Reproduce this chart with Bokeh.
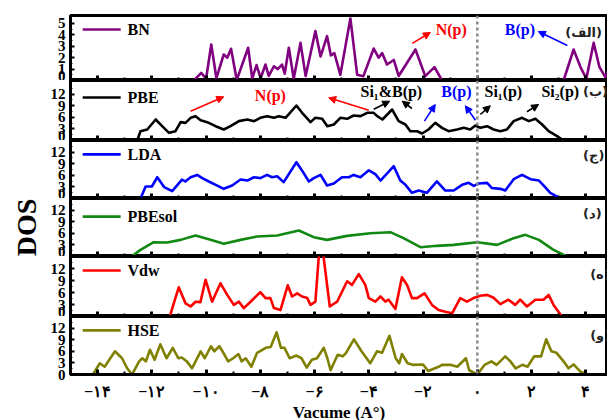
from bokeh.plotting import figure
from bokeh.layouts import column
from bokeh.models import (Range1d, FixedTicker, Span, Arrow, NormalHead, CustomLabelingPolicy,
                          InlineStyleSheet)
from bokeh.core.properties import value
from bokeh.embed import file_html
from bokeh.resources import INLINE

SERIF = "Liberation Serif"

# ---------------- data ----------------
x_ticks = [-14, -12, -10, -8, -6, -4, -2, 0, 2, 4]
x_tick_labels = ["−۱۴", "−۱۲", "−۱۰", "−۸", "−۶", "−۴", "−۲", "۰", "۲", "۴"]
x_minor = [-15, -13, -11, -9, -7, -5, -3, -1, 1, 3]

bn_x = [-15.0, -10.45, -10.18, -10.0, -9.81, -9.62, -9.35, -9.22, -9.08, -8.87, -8.45, -8.3,
        -8.14, -7.99, -7.81, -7.69, -7.5, -7.36, -7.2, -7.1, -6.95, -6.77, -6.52, -6.33,
        -5.97, -5.78, -5.54, -5.4, -5.27, -5.05, -4.68, -4.43, -4.2, -3.82, -3.64, -3.51,
        -3.33, -3.08, -2.9, -2.28, -1.92, -1.58, -1.3, 3.18, 3.55, 3.8, 4.02, 4.29, 4.5,
        4.72, 4.85]
bn_y = [0.0, 0.0, 0.67, 0.15, 3.16, 0.2, 2.28, 2.0, 2.78, 0.05, 2.87, 0.2,
        1.35, 0.2, 1.4, 0.4, 1.25, 1.0, 1.4, 0.6, 2.87, 0.15, 3.3, 0.4,
        4.33, 2.1, 3.89, 2.2, 2.4, 0.5, 5.44, 0.5, 0.38, 2.8, 2.0, 2.4,
        1.4, 1.8, 0.4, 2.72, 0.38, 1.17, 0.0, 0.0, 2.72, 1.2, 0.15, 3.3, 1.2,
        0.3, 1.0]

pbe_x = [-12.54, -12.42, -12.17, -11.86, -11.62, -11.37, -11.13, -10.94, -10.76, -10.57,
         -10.39, -10.2, -9.96, -9.65, -9.35, -9.1, -8.79, -8.48, -8.23, -8.0, -7.75, -7.5,
         -7.32, -7.07, -6.67, -6.46, -6.15, -5.97, -5.72, -5.53, -5.29, -5.05, -4.8, -4.56,
         -4.31, -4.06, -3.82, -3.69, -3.5, -3.14, -2.9, -2.65, -2.47, -2.22, -2.04, -1.8,
         -1.55, -1.3, -1.06, -0.75, -0.5, -0.26, -0.07, 0.11, 0.36, 0.6, 0.85, 1.09, 1.34,
         1.65, 1.9, 2.14, 2.39, 2.63, 2.94, 3.18, 3.4]
pbe_y = [0.0, 2.4, 2.84, 5.43, 3.7, 1.98, 2.4, 4.74, 4.56, 5.86,
         6.29, 5.25, 4.74, 3.7, 2.84, 3.7, 5.0, 5.43, 5.0, 5.86, 6.29, 5.86,
         6.29, 5.86, 9.04, 7.15, 4.74, 5.86, 5.6, 3.7, 4.13, 5.86, 5.6, 6.46,
         6.29, 7.15, 7.15, 6.29, 5.43, 8.0, 5.0, 4.13, 2.4, 2.4, 1.81, 2.84,
         4.56, 3.27, 2.4, 2.84, 3.27, 2.84, 3.88, 3.27, 3.7, 2.84, 2.4, 2.84, 5.0,
         5.86, 5.0, 5.6, 4.13, 2.4, 1.12, 0.0, 0.0]

lda_x = [-15.0, -12.42, -12.23, -12.0, -11.8, -11.55, -11.25, -10.89, -10.77, -10.57, -10.33,
         -10.14, -9.9, -9.59, -9.35, -9.04, -8.73, -8.48, -8.24, -8.0, -7.75, -7.57, -7.38,
         -7.14, -6.67, -6.46, -6.21, -6.03, -5.78, -5.54, -5.29, -4.99, -4.74, -4.56, -4.31,
         -4.0, -3.76, -3.57, -3.08, -2.84, -2.65, -2.41, -2.16, -1.86, -1.49, -1.18, -0.87,
         -0.56, -0.32, -0.13, 0.05, 0.36, 0.54, 0.85, 1.03, 1.34, 1.65, 1.96, 2.27, 2.45,
         2.69, 3.06, 4.0]
lda_y = [0.0, 0.0, 3.1, 3.1, 5.5, 2.96, 1.9, 4.9, 4.4, 5.5, 6.1,
         5.26, 4.4, 3.35, 2.5, 3.35, 4.9, 4.64, 5.5, 5.26, 6.1, 5.5, 5.77,
         4.23, 9.38, 7.2, 4.4, 5.26, 6.1, 3.35, 3.87, 5.5, 5.5, 6.1, 5.5,
         7.3, 6.3, 4.64, 8.35, 4.64, 3.53, 1.47, 2.06, 1.47, 4.4, 2.06, 2.06,
         3.53, 4.05, 3.27, 3.87, 4.05, 2.7, 2.5, 2.06, 5.0, 6.1, 5.0, 4.64, 3.35,
         1.47, 0.0, 0.0]

pbesol_x = [-15.0, -12.75, -12.42, -11.93, -11.44, -10.94, -10.39, -9.9, -9.35, -8.73, -8.12,
            -7.38, -6.58, -6.03, -5.54, -4.8, -3.94, -3.21, -2.72, -2.1, -1.49, -0.87, 0.0,
            0.73, 1.28, 1.77, 2.27, 2.81, 3.3, 4.8]
pbesol_y = [0.0, 0.0, 1.72, 3.7, 3.62, 4.3, 5.43, 4.48, 3.27, 4.3, 5.17,
            5.43, 6.72, 5.0, 4.3, 5.34, 6.03, 6.29, 4.74, 2.41, 2.76, 3.01, 3.7,
            3.01, 4.56, 5.6, 4.3, 1.72, 0.0, 0.0]

vdw_x = [-15.0, -11.34, -11.01, -10.76, -10.57, -10.39, -10.21, -10.02, -9.78, -9.47, -9.22,
         -8.98, -8.79, -8.61, -8.36, -8.0, -7.81, -7.63, -7.5, -7.26, -6.99, -6.83, -6.64,
         -6.46, -6.27, -6.15, -5.97, -5.84, -5.76, -5.68, -5.44, -5.17, -4.8, -4.62, -4.37,
         -4.13, -4.0, -3.76, -3.57, -3.39, -3.27, -3.02, -2.78, -2.59, -2.41, -2.22, -1.95,
         -1.67, -1.43, -1.18, -0.93, -0.63, -0.38, -0.14, 0.11, 0.36, 0.6, 0.85, 1.15, 1.4,
         1.58, 1.83, 2.14, 2.44, 2.63, 2.81, 3.12, 3.61]
vdw_y = [0.0, 0.0, 7.3, 3.3, 2.5, 3.7, 3.6, 9.2, 3.7, 8.3, 5.4,
         2.9, 3.7, 2.1, 3.7, 6.1, 4.6, 4.6, 2.1, 1.6, 7.8, 5.0, 5.8,
         5.0, 4.6, 2.9, 3.7, 15.5, 17.5, 15.5, 2.5, 3.7, 8.8, 7.9, 10.6,
         7.9, 4.6, 3.7, 5.0, 3.7, 4.2, 1.9, 9.8, 7.9, 4.6, 4.6, 5.8,
         2.9, 1.6, 1.2, 0.8, 4.6, 3.7, 4.6, 5.2, 5.4, 4.7, 3.1, 4.2, 2.9,
         4.2, 2.5, 4.2, 4.2, 5.4, 2.9, 0.0, 0.0]

hse_x = [-15.0, -14.17, -13.92, -13.74, -13.36, -13.1, -12.91, -12.73, -12.47, -12.35, -12.22,
         -12.07, -11.9, -11.69, -11.46, -11.23, -11.02, -10.9, -10.71, -10.52, -10.2, -10.05,
         -9.82, -9.7, -9.51, -9.32, -9.19, -9.0, -8.81, -8.69, -8.54, -8.33, -8.12, -7.8,
         -7.62, -7.4, -7.24, -7.11, -6.92, -6.67, -6.48, -6.29, -6.1, -5.91, -5.66, -5.53,
         -5.41, -5.15, -4.96, -4.84, -4.55, -4.27, -3.95, -3.7, -3.51, -3.24, -3.01, -2.88,
         -2.78, -2.57, -2.38, -2.0, -1.81, -1.43, -1.3, -0.99, -0.74, -0.42, -0.3, 0.0, 0.27,
         0.52, 0.71, 1.03, 1.22, 1.41, 1.66, 1.85, 2.1, 2.35, 2.54, 2.73, 2.92, 3.18, 3.36,
         3.55, 3.81, 4.06, 4.25]
hse_y = [0.0, 0.0, 2.9, 2.0, 6.0, 4.2, 1.6, 0.0, 3.4, 4.2, 3.4,
         6.4, 3.8, 7.8, 4.2, 6.9, 4.2, 4.4, 3.4, 1.6, 6.0, 4.2,
         7.3, 6.0, 7.3, 5.1, 3.4, 4.2, 5.3, 3.4, 4.2, 2.0, 5.6, 6.9,
         7.1, 10.9, 6.9, 6.9, 4.2, 4.9, 4.2, 1.8, 3.8, 4.2, 6.9, 4.2,
         1.1, 5.1, 4.7, 5.6, 9.1, 6.0, 2.9, 6.0, 5.6, 10.0, 4.2, 2.9,
         5.3, 2.9, 2.5, 2.6, 0.9, 2.0, 2.5, 2.5, 2.0, 4.2, 1.1, 0.0, 2.5,
         3.4, 2.5, 4.7, 3.4, 1.6, 2.5, 2.0, 4.7, 4.7, 9.1, 6.0, 5.6, 3.4, 1.6,
         2.6, 0.7, 0.0, 0.0]

series_names = ["BN", "PBE", "LDA", "PBEsol", "Vdw", "HSE"]
series_colors = ["#800080", "#000000", "#0000ff", "#118811", "#ff0000", "#808000"]
panel_labels = ["(الف)", "(ب)", "(ج)", "(د)", "(ه)", "(و)"]
dos_ticks = [0, 3, 6, 9, 12]
bn_ticks = [0, 1, 2, 3, 4, 5]

# ---------------- layout / style ----------------
FRAME_W = 537
LEFT = 70
X0, X1 = -15.0, 4.8
frame_heights = [65, 60, 58, 58, 60, 58]
y_tops = [5.7, 15.5, 15.0, 15.0, 15.0, 15.0]
legend_y = [4.47, 11.1, 11.4, 10.3, 11.5, 11.4]
plab_pos = [(3.24, 4.2), (3.9, 12.66), (3.9, 11.1), (3.9, 11.1), (4.16, 10.5), (4.16, 10.1)]

data = [(bn_x, bn_y), (pbe_x, pbe_y), (lda_x, lda_y), (pbesol_x, pbesol_y),
        (vdw_x, vdw_y), (hse_x, hse_y)]

hide_all = CustomLabelingPolicy(code="for (const i of indices) indices.unset(i)\nreturn indices")
overflow_css = InlineStyleSheet(css="""
:host { overflow: visible !important; }
div { overflow: visible !important; }
svg { overflow: visible !important; }
canvas { overflow: visible !important; }
""")

figs = []
for i in range(6):
    last = i == 5
    p = figure(frame_width=FRAME_W, frame_height=frame_heights[i],
               x_range=Range1d(X0, X1), y_range=Range1d(0, y_tops[i]),
               output_backend="svg", toolbar_location=None,
               min_border_left=LEFT, min_border_right=0,
               min_border_top=15 if i == 0 else 0, min_border_bottom=0,
               background_fill_color="white", border_fill_alpha=0.0)
    p.stylesheets = [overflow_css]
    p.xgrid.visible = False
    p.ygrid.visible = False
    p.outline_line_color = "black"
    p.outline_line_width = 3

    xa = p.xaxis[0]
    xa.ticker = FixedTicker(ticks=x_ticks, minor_ticks=x_minor)
    xa.major_tick_in = 5
    xa.major_tick_out = 0
    xa.minor_tick_in = 3
    xa.minor_tick_out = 0
    xa.major_tick_line_width = 3
    xa.minor_tick_line_width = 2
    xa.axis_line_width = 3
    if last:
        xa.major_label_overrides = {t: l for t, l in zip(x_ticks, x_tick_labels)}
        xa.major_label_text_font = SERIF
        xa.major_label_text_font_style = "bold"
        xa.major_label_text_font_size = "16px"
        xa.major_label_text_color = "black"
        xa.major_label_standoff = 8
        xa.axis_label = "Vacume (A°)"
        xa.axis_label_text_font = SERIF
        xa.axis_label_text_font_style = "bold"
        xa.axis_label_text_font_size = "17px"
        xa.axis_label_text_color = "black"
        xa.axis_label_standoff = 0
    else:
        xa.major_label_text_font_size = "0px"
        xa.major_label_standoff = 0
        xa.major_label_policy = hide_all

    ya = p.yaxis[0]
    if i == 0:
        ya.ticker = FixedTicker(ticks=bn_ticks, minor_ticks=[0.5, 1.5, 2.5, 3.5, 4.5])
    else:
        ya.ticker = FixedTicker(ticks=dos_ticks, minor_ticks=[1.5, 4.5, 7.5, 10.5, 13.5])
    ya.major_tick_in = 4
    ya.major_tick_out = 0
    ya.minor_tick_in = 2
    ya.minor_tick_out = 0
    ya.major_tick_line_width = 2
    ya.axis_line_width = 3
    ya.major_label_text_font = SERIF
    ya.major_label_text_font_style = "bold"
    ya.major_label_text_font_size = "15px"
    ya.major_label_text_color = "black"
    ya.major_label_standoff = 5
    if i == 3:
        ya.axis_label = "DOS"
        ya.axis_label_text_font = SERIF
        ya.axis_label_text_font_style = "bold"
        ya.axis_label_text_font_size = "28px"
        ya.axis_label_text_color = "black"
        ya.axis_label_standoff = 6

    xs, ys = data[i]
    col = series_colors[i]
    p.line(xs, ys, line_color=col, line_width=2.6, line_join="round")

    p.add_layout(Span(location=0, dimension="height", line_color="#888888",
                      line_dash="3 3", line_width=2.5))

    p.line([-14.55, -13.15], [legend_y[i]] * 2, line_color=col, line_width=2.6)
    p.text(x=[-12.9], y=[legend_y[i]], text=[series_names[i]], text_font=value(SERIF),
           text_font_style="bold", text_font_size="16px", text_align="left",
           text_baseline="middle", text_color="black")

    px_, py_ = plab_pos[i]
    p.text(x=[px_], y=[py_], text=[panel_labels[i]], text_font=value("DejaVu Sans"),
           text_font_style="bold", text_font_size="13px", text_align="left",
           text_baseline="middle", text_color="#222222")
    figs.append(p)


def arrow(p, x0, y0, x1, y1, color):
    p.add_layout(Arrow(end=NormalHead(size=7, fill_color=color, line_color=color),
                       x_start=x0, y_start=y0, x_end=x1, y_end=y1,
                       line_color=color, line_width=1.6))


def label(p, x, y, t, color):
    p.text(x=[x], y=[y], text=[t], text_font=value(SERIF), text_font_style="bold",
           text_font_size="16px", text_align="center", text_baseline="middle",
           text_color=color)


p0 = figs[0]
label(p0, -0.96, 4.47, "N(p)", "#ff0000")
arrow(p0, -2.40, 3.25, -1.73, 4.21, "#ff0000")
label(p0, 1.57, 4.47, "B(p)", "#0000ff")
arrow(p0, 3.32, 3.07, 2.25, 4.3, "#0000ff")

p1 = figs[1]
arrow(p1, -10.57, 7.57, -9.35, 11.29, "#ff0000")
label(p1, -7.63, 11.7, "N(p)", "#ff0000")
arrow(p1, -4.0, 7.83, -5.48, 11.03, "#ff0000")
label(p1, -3.17, 12.58, "Si₁&B(p)", "#000000")
arrow(p1, -3.82, 8.09, -3.23, 10.16, "#000000")
arrow(p1, -2.41, 8.27, -2.77, 10.16, "#000000")
label(p1, -0.77, 12.66, "B(p)", "#0000ff")
arrow(p1, -1.95, 4.99, -1.55, 9.3, "#0000ff")
arrow(p1, -0.07, 5.25, -0.44, 8.97, "#0000ff")
label(p1, 0.96, 12.66, "Si₁(p)", "#000000")
arrow(p1, 0.11, 6.72, 0.48, 8.97, "#000000")
label(p1, 3.06, 12.66, "Si₂(p)", "#000000")
arrow(p1, 1.83, 7.42, 2.26, 9.3, "#000000")

layout = column(*figs, spacing=0)
open("out.html", "w").write(file_html(layout, INLINE))
